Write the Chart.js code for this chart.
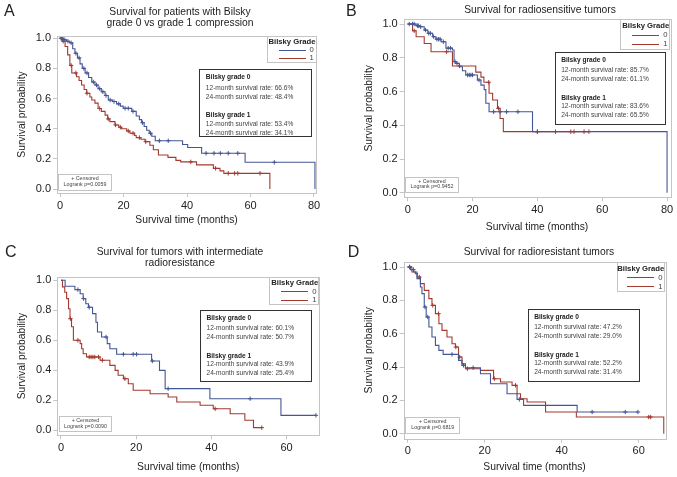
<!DOCTYPE html>
<html>
<head>
<meta charset="utf-8">
<script src="https://cdn.jsdelivr.net/npm/chart.js@4.4.1/dist/chart.umd.min.js"></script>
<style>
  body { margin: 0; width: 677px; height: 477px; background: #fff; position: relative; overflow: hidden;
         font-family: "Liberation Sans", Arial, Helvetica, sans-serif; color: #222; }
  canvas { position: absolute; }
  .txt { position: absolute; white-space: nowrap; }
  .box { position: absolute; box-sizing: border-box; background: #fff; }
</style>
</head>
<body>
<script>
// ── Data ───────────────────────────────────────────
const xTicks80 = [0, 20, 40, 60, 80];
const xTicks60 = [0, 20, 40, 60];
const yTicks   = [0, 0.2, 0.4, 0.6, 0.8, 1.0];
const groups   = ['0', '1'];

// A — Bilsky grade 0 vs 1
const aTime0 = [0, 1, 2, 3, 4, 4.7, 5.5, 6.3, 7, 7.9, 9, 10, 11, 12, 13, 14.2, 15.2, 16.5, 17.8, 19, 19.9, 22.6, 24, 25, 25.7, 26.5, 27.3, 28.1, 28.9, 30, 38.6, 40.2, 44.6, 58.3, 80.3];
const aSurv0 = [1, 0.99, 0.98, 0.97, 0.93, 0.90, 0.87, 0.83, 0.80, 0.77, 0.74, 0.71, 0.69, 0.666, 0.645, 0.62, 0.59, 0.58, 0.565, 0.55, 0.535, 0.515, 0.484, 0.46, 0.44, 0.415, 0.39, 0.37, 0.35, 0.32, 0.295, 0.275, 0.237, 0.177, 0];
const aCens0 = [0.3, 0.6, 1.5, 2.5, 3.5, 5, 6, 7.5, 8.5, 10.5, 11.5, 12.5, 13.5, 14.5, 15.8, 17, 18.5, 20.5, 21.5, 23, 26, 28.5, 31.3, 34.1, 46, 48.5, 50.5, 53, 56, 67.5];
const aTime1 = [0, 0.8, 1.6, 2.4, 3.1, 3.7, 5.2, 6, 6.8, 7.6, 8.4, 9.4, 10, 11, 12, 13, 14.2, 15, 15.7, 17.3, 18.5, 19.4, 21, 22, 23.5, 24, 25.5, 26.8, 28.3, 29.4, 31, 34, 36.5, 38, 43, 48.3, 50.4, 51.6, 66.1];
const aSurv1 = [1, 0.98, 0.945, 0.89, 0.82, 0.77, 0.745, 0.72, 0.69, 0.66, 0.635, 0.61, 0.59, 0.57, 0.534, 0.515, 0.49, 0.465, 0.447, 0.425, 0.41, 0.40, 0.385, 0.37, 0.355, 0.341, 0.33, 0.314, 0.29, 0.26, 0.226, 0.21, 0.19, 0.18, 0.16, 0.137, 0.12, 0.104, 0];
const aCens1 = [0.5, 1, 3.5, 5, 8.5, 12.5, 15.2, 17.5, 19, 21.5, 23, 25, 27, 41.2, 49, 53, 55, 56, 63];
const aRates = ['66.6%', '48.4%', '53.4%', '34.1%'];
const aPval  = '0.0059';

// B — radiosensitive
const bTime0 = [0, 2.6, 3.6, 5.1, 6.2, 7.7, 8.7, 10.3, 11.8, 13.8, 14.3, 14.9, 15.9, 16.9, 17.9, 21.5, 22.6, 23.6, 24.1, 25.1, 38.5, 80];
const bSurv0 = [1, 0.99, 0.984, 0.964, 0.945, 0.925, 0.91, 0.895, 0.857, 0.846, 0.777, 0.767, 0.747, 0.723, 0.698, 0.668, 0.638, 0.611, 0.53, 0.48, 0.362, 0];
const bCens0 = [0.5, 1.5, 2, 3, 3.3, 4, 5.5, 6.5, 7, 8, 9, 9.5, 10, 11, 12.5, 13.2, 14.6, 15.2, 18.5, 19, 19.5, 20, 22, 26.5, 28.5, 30.5, 34, 40];
const bTime1 = [0, 1.5, 2.6, 5.1, 7.2, 13.8, 21, 22.6, 23.5, 25.1, 26.2, 27.7, 28.5, 29.5];
const bSurv1 = [1, 0.96, 0.925, 0.885, 0.836, 0.751, 0.715, 0.685, 0.655, 0.59, 0.55, 0.50, 0.44, 0.362];
const bCens1 = [2, 12, 16, 25, 28, 40, 45.6, 50.3, 51.3, 54.4, 55.9];
const bRates = ['85.7%', '61.1%', '83.6%', '65.5%'];
const bPval  = '0.9452';

// C — intermediate radioresistance
const cTime0 = [0, 1.1, 3.7, 5.1, 5.9, 6.6, 7.3, 8.4, 9.3, 9.7, 10.8, 12.3, 13, 14.8, 24.1, 26.2, 27.7, 39.6, 58.5];
const cSurv0 = [1, 0.96, 0.938, 0.91, 0.878, 0.844, 0.82, 0.778, 0.72, 0.655, 0.622, 0.578, 0.544, 0.507, 0.462, 0.40, 0.278, 0.211, 0.10];
const cCens0 = [4.5, 6, 7.5, 12, 16.6, 19.2, 20.1, 24.3, 28.5, 50.3, 67.8];
const cTime1 = [0, 0.4, 1, 1.5, 2, 2.4, 2.8, 3.3, 5.1, 5.5, 5.9, 6.8, 10.4, 13, 14.4, 15.2, 16.6, 17.9, 19.2, 23.7, 28.5, 30.8, 37, 40.5, 45, 48.9, 51.2];
const cSurv1 = [1, 0.956, 0.92, 0.878, 0.81, 0.744, 0.69, 0.60, 0.578, 0.544, 0.51, 0.489, 0.467, 0.433, 0.40, 0.367, 0.344, 0.311, 0.267, 0.244, 0.222, 0.189, 0.167, 0.144, 0.111, 0.067, 0.018];
const cCens1 = [2.5, 4.5, 7.5, 8, 8.5, 9, 10, 11, 17, 41, 53.4];
const cRates = ['60.1%', '50.7%', '43.9%', '25.4%'];
const cPval  = '0.0090';

// D — radioresistant
const dTime0 = [0, 0.7, 1.6, 2.4, 3.3, 3.7, 4.3, 4.8, 5.5, 6.3, 7.2, 8.1, 9.2, 13.2, 14.1, 15, 18.9, 21.5, 25.8, 28.4, 30.1, 44];
const dSurv0 = [1, 0.984, 0.97, 0.93, 0.88, 0.84, 0.76, 0.70, 0.64, 0.58, 0.53, 0.50, 0.476, 0.44, 0.41, 0.396, 0.36, 0.30, 0.24, 0.206, 0.17, 0.13];
const dCens0 = [0.5, 1.5, 4.5, 5.2, 11.5, 14.5, 17, 29, 47.9, 56.5, 59.8];
const dTime1 = [0, 1.1, 2, 2.5, 3.3, 4.3, 5.5, 6.3, 7.2, 8.1, 8.9, 10.2, 11.5, 12.4, 13.2, 14.1, 15, 18.9, 22.3, 24.1, 27.1, 28.4, 29.3, 31, 35.8, 43.8, 66.5];
const dSurv1 = [1, 0.97, 0.96, 0.94, 0.90, 0.86, 0.81, 0.77, 0.72, 0.66, 0.62, 0.58, 0.54, 0.52, 0.46, 0.42, 0.39, 0.38, 0.33, 0.31, 0.29, 0.24, 0.21, 0.19, 0.13, 0.10, 0];
const dCens1 = [0.5, 3, 6.5, 8, 12.5, 13.5, 15.5, 22.5, 28, 62.6, 63.1];
const dRates = ['47.2%', '29.0%', '52.2%', '31.4%'];
const dPval  = '0.6819';

// ── Styles ─────────────────────────────────────────
const FONT  = '"Liberation Sans", Arial, Helvetica, sans-serif';
const BLUE  = '#445694';
const RED   = '#A23A2E';
const FRAME = '#c4c4c4';
const INK   = '#222';

// ── Helpers ────────────────────────────────────────
function survAt(times, surv, t) {
  let s = surv[0];
  times.forEach((tt, i) => { if (tt <= t) s = surv[i]; });
  return s;
}

function kmLine(times, surv, cens) {
  const pts = times.map((t, i) => ({ x: t, y: surv[i] }));
  const lastC = Math.max(...cens);
  if (lastC > times[times.length - 1]) pts.push({ x: lastC, y: surv[surv.length - 1] });
  return pts;
}

function kmCens(times, surv, cens) {
  return cens.map(t => ({ x: t, y: survAt(times, surv, t) }));
}

function label(x, y, text, size, o = {}) {
  const d = document.createElement('div');
  d.className = 'txt';
  d.textContent = text;
  d.style.fontSize = size + 'px';
  d.style.lineHeight = size + 'px';
  d.style.top = (y - size * 0.53) + 'px';
  if (o.bold) d.style.fontWeight = 'bold';
  if (o.color) d.style.color = o.color;
  if (o.align === 'center') {
    d.style.left = (x - 200) + 'px'; d.style.width = '400px'; d.style.textAlign = 'center';
  } else if (o.align === 'right') {
    d.style.right = (677 - x) + 'px';
  } else {
    d.style.left = x + 'px';
  }
  document.body.appendChild(d);
}

function box(l, t, r, b, border) {
  const d = document.createElement('div');
  d.className = 'box';
  Object.assign(d.style, { left: l + 'px', top: t + 'px', width: (r - l) + 'px', height: (b - t) + 'px', border });
  document.body.appendChild(d);
}

const framePlugin = {
  id: 'frame',
  afterDatasetsDraw(chart) {
    const { ctx, chartArea: a } = chart;
    ctx.save();
    ctx.strokeStyle = FRAME;
    ctx.lineWidth = 1;
    ctx.strokeRect(Math.round(a.left) + 0.5, Math.round(a.top) + 0.5,
                   Math.round(a.right - a.left), Math.round(a.bottom - a.top));
    ctx.restore();
  }
};

// ── One panel ──────────────────────────────────────
function panel(p) {
  const cv = document.createElement('canvas');
  cv.width = p.cw; cv.height = p.ch;
  cv.style.left = p.cx + 'px'; cv.style.top = p.cy + 'px';
  cv.style.width = p.cw + 'px'; cv.style.height = p.ch + 'px';
  document.body.appendChild(cv);

  const titleFont = { family: FONT, size: 10.3, lineHeight: 1.2 };
  const half = 10.3 * 1.2 / 2;
  const series = [
    { times: p.t0, surv: p.s0, cens: p.c0, color: BLUE },
    { times: p.t1, surv: p.s1, cens: p.c1, color: RED }
  ];
  const datasets = [];
  series.forEach(s => {
    datasets.push({
      data: kmLine(s.times, s.surv, s.cens), borderColor: s.color, borderWidth: 1.1,
      stepped: true, pointRadius: 0, fill: false
    });
    datasets.push({
      data: kmCens(s.times, s.surv, s.cens), showLine: false, pointStyle: 'cross',
      pointRadius: 2.2, borderColor: s.color, borderWidth: 1, backgroundColor: s.color
    });
  });

  new Chart(cv, {
    type: 'line',
    data: { datasets },
    plugins: [framePlugin],
    options: {
      responsive: false,
      animation: false,
      layout: { padding: { left: 0, top: p.frame.t - p.cy, right: p.cx + p.cw - p.frame.r, bottom: 0 } },
      plugins: { legend: { display: false }, tooltip: { enabled: false } },
      scales: {
        x: {
          type: 'linear', min: p.xMin, max: p.xMax,
          afterBuildTicks: s => { s.ticks = p.xTicks.map(v => ({ value: v })); },
          afterFit: s => { s.height = p.cy + p.ch - p.frame.b; },
          grid: { drawOnChartArea: false, tickLength: 4, color: FRAME },
          border: { display: false },
          ticks: { font: { family: FONT, size: 11 }, color: INK, padding: 2, maxRotation: 0, autoSkip: false },
          title: { display: true, text: 'Survival time (months)', font: titleFont, color: INK,
                   padding: { top: 0, bottom: p.cy + p.ch - p.xTitleY - half } }
        },
        y: {
          type: 'linear', min: p.yMin, max: p.yMax,
          afterBuildTicks: s => { s.ticks = yTicks.map(v => ({ value: v })); },
          afterFit: s => { s.width = p.frame.l - p.cx; },
          grid: { drawOnChartArea: false, tickLength: 4, color: FRAME },
          border: { display: false },
          ticks: { font: { family: FONT, size: 11 }, color: INK, padding: 2, callback: v => v.toFixed(1) },
          title: { display: true, text: 'Survival probability', font: titleFont, color: INK,
                   padding: { top: p.yTitleX - p.cx - half, bottom: 0 } }
        }
      }
    }
  });

  // panel letter + title
  label(p.letterX, p.letterY, p.letter, 16);
  p.title.forEach((line, i) => label(p.titleX, p.titleY[i], line, 10.3, { align: 'center' }));

  // legend box (Bilsky Grade)
  const L = p.legend, lh = L.b - L.t;
  box(L.l, L.t, L.r, L.b, '1px solid ' + FRAME);
  label(L.r - 1, L.t + 0.22 * lh, 'Bilsky Grade', 7.7, { bold: true, align: 'right' });
  [BLUE, RED].forEach((c, i) => {
    const y = L.t + (i ? 0.82 : 0.53) * lh;
    const ln = document.createElement('div');
    Object.assign(ln.style, { position: 'absolute', left: (L.r - 38) + 'px', top: (y - 0.5) + 'px',
                              width: '27px', height: '0', borderTop: '1px solid ' + c });
    document.body.appendChild(ln);
    label(L.r - 7, y, groups[i], 7.7, { color: '#444' });
  });

  // survival-rate box
  const S = p.stats;
  box(S.l, S.t, S.r, S.b, '1.5px solid #333');
  const rows = [
    ['Bilsky grade 0', true], ['12-month survival rate: ' + p.rates[0], false], ['24-month survival rate: ' + p.rates[1], false],
    ['Bilsky grade 1', true], ['12-month survival rate: ' + p.rates[2], false], ['24-month survival rate: ' + p.rates[3], false]
  ];
  const offs = [8.5, 18.7, 28, 46.3, 55, 64];
  rows.forEach((r, i) => label(S.l + 6.5, S.t + offs[i], r[0], 6.6, { bold: r[1], color: r[1] ? '#222' : '#444' }));

  // censored / logrank box
  const C = p.cens;
  box(C.l, C.t, C.r, C.b, '1px solid ' + FRAME);
  const cxm = (C.l + C.r) / 2;
  label(cxm, C.t + 5, '+ Censored', 5.3, { align: 'center', color: '#444' });
  label(cxm, C.t + 10.6, 'Logrank p=' + p.pval, 5.3, { align: 'center', color: '#444' });
}

// ── Build the four panels ──────────────────────────
panel({
  letter: 'A', letterX: 4, letterY: 11,
  title: ['Survival for patients with Bilsky', 'grade 0 vs grade 1 compression'], titleX: 180, titleY: [12, 23],
  cx: 0, cy: 0, cw: 338, ch: 238,
  frame: { l: 57, r: 316, t: 36, b: 193 },
  xMin: -0.95, xMax: 80.63, yMin: -0.0265, yMax: 1.015, xTicks: xTicks80,
  yTitleX: 22, xTitleY: 220,
  t0: aTime0, s0: aSurv0, c0: aCens0, t1: aTime1, s1: aSurv1, c1: aCens1,
  legend: { l: 267, t: 36, r: 316.5, b: 63.3 },
  stats: { l: 199.3, t: 69.3, r: 311.7, b: 136.7 },
  cens: { l: 58.3, t: 174, r: 111.7, b: 190.7 },
  rates: aRates, pval: aPval
});

panel({
  letter: 'B', letterX: 346, letterY: 11.3,
  title: ['Survival for radiosensitive tumors'], titleX: 540, titleY: [10.7],
  cx: 338, cy: 0, cw: 339, ch: 238,
  frame: { l: 403.7, r: 670.3, t: 19.3, b: 197.3 },
  xMin: -1.23, xMax: 81.0, yMin: -0.027, yMax: 1.028, xTicks: xTicks80,
  yTitleX: 369, xTitleY: 227,
  t0: bTime0, s0: bSurv0, c0: bCens0, t1: bTime1, s1: bSurv1, c1: bCens1,
  legend: { l: 620, t: 19.3, r: 670.3, b: 50 },
  stats: { l: 554.7, t: 51.7, r: 666.3, b: 125 },
  cens: { l: 405.3, t: 176.7, r: 458.7, b: 193.3 },
  rates: bRates, pval: bPval
});

panel({
  letter: 'C', letterX: 5, letterY: 252,
  title: ['Survival for tumors with intermediate', 'radioresistance'], titleX: 180, titleY: [252, 263.7],
  cx: 0, cy: 238, cw: 338, ch: 239,
  frame: { l: 57.3, r: 319.3, t: 277, b: 435.3 },
  xMin: -0.98, xMax: 68.7, yMin: -0.033, yMax: 1.022, xTicks: xTicks60,
  yTitleX: 22, xTitleY: 467,
  t0: cTime0, s0: cSurv0, c0: cCens0, t1: cTime1, s1: cSurv1, c1: cCens1,
  legend: { l: 269, t: 277, r: 319.3, b: 305.3 },
  stats: { l: 200, t: 309.7, r: 311.7, b: 382 },
  cens: { l: 59.3, t: 416, r: 111.7, b: 432 },
  rates: cRates, pval: cPval
});

panel({
  letter: 'D', letterX: 347.7, letterY: 252.3,
  title: ['Survival for radioresistant tumors'], titleX: 539, titleY: [252],
  cx: 338, cy: 238, cw: 339, ch: 239,
  frame: { l: 403.7, r: 665.3, t: 262, b: 438.7 },
  xMin: -1.04, xMax: 66.9, yMin: -0.03, yMax: 1.03, xTicks: xTicks60,
  yTitleX: 369, xTitleY: 467,
  t0: dTime0, s0: dSurv0, c0: dCens0, t1: dTime1, s1: dSurv1, c1: dCens1,
  legend: { l: 617, t: 262, r: 665.3, b: 292 },
  stats: { l: 527.7, t: 308.7, r: 640.3, b: 382 },
  cens: { l: 405.3, t: 417, r: 460.3, b: 433.7 },
  rates: dRates, pval: dPval
});
</script>
</body>
</html>
